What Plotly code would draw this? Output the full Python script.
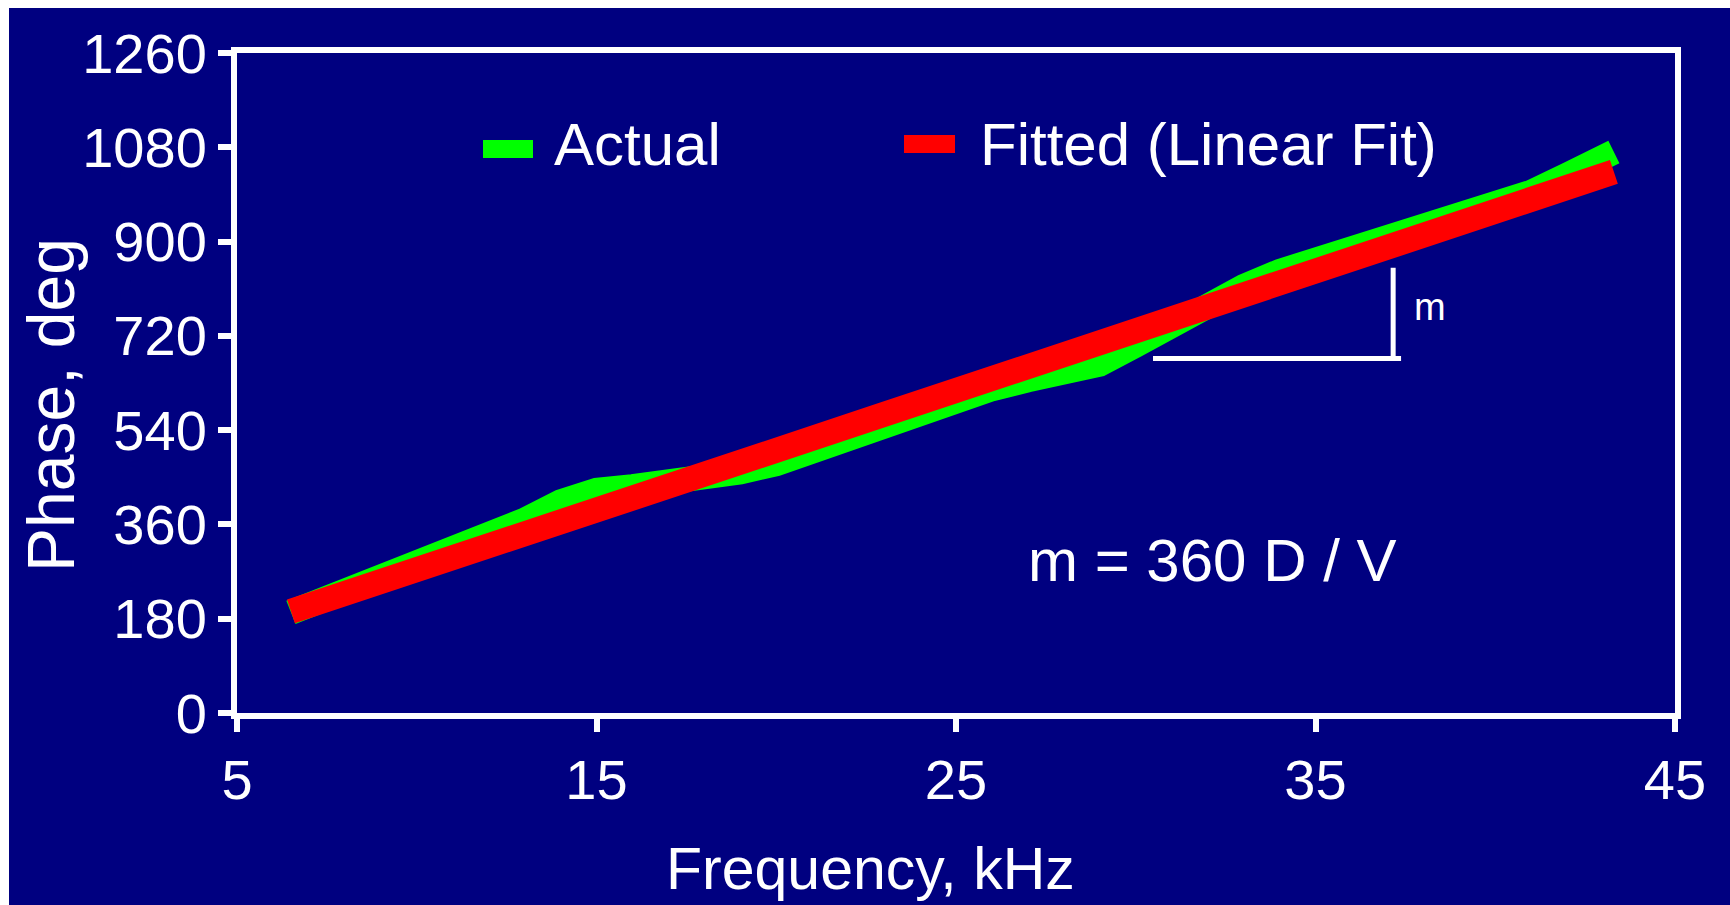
import plotly.graph_objects as go

# ---------------- data ----------------
freq_khz = [6.5, 7, 8, 9, 10, 11, 12, 13, 14, 15, 16, 17, 18, 19, 20, 21, 22,
            23, 24, 25, 26, 27, 28, 29, 30, 31, 32, 33, 34, 35, 36, 37, 38, 39,
            40, 41, 42, 43, 43.3]
phase_actual = [192, 205, 232, 259, 285, 310, 337, 368, 403, 425, 432, 439, 450,
                460, 476, 500, 529, 555, 580, 602, 619, 636, 651, 666, 702, 742,
                779, 814, 843, 864, 882, 901, 922, 943, 968, 994, 1027, 1062, 1071]
phase_fitted = [194, 205, 228, 251, 274, 296, 319, 342, 365, 388, 410, 433, 456,
                479, 502, 524, 547, 570, 593, 616, 638, 661, 684, 707, 730, 752,
                775, 798, 821, 844, 866, 889, 912, 935, 958, 980, 1003, 1026, 1033]

x_tick_vals = [5, 15, 25, 35, 45]
y_tick_vals = [0, 180, 360, 540, 720, 900, 1080, 1260]

series_names = ["Actual", "Fitted (Linear Fit)"]
series_colors = ["#00FF00", "#FF0000"]

x_title = "Frequency, kHz"
y_title = "Phase, deg"
formula_text = "m = 360 D / V"
slope_label = "m"

# ---------------- layout geometry ----------------
W, H = 1730, 905
L, R, T, B = 237, 55, 53, 192
PW, PH = W - L - R, H - T - B
NAVY = "#000080"
FONT = "Liberation Sans"


def px(xpix):
    return (xpix - L) / PW


def py(ypix):
    return (H - B - ypix) / PH


fig = go.Figure()
for name, vals, col in zip(series_names, [phase_actual, phase_fitted], series_colors):
    fig.add_trace(go.Scatter(x=freq_khz, y=vals, mode="lines", name=name,
                             line=dict(color=col, width=25), showlegend=False,
                             hoverinfo="skip"))

axis_common = dict(showline=True, linecolor="white", linewidth=6, mirror=True,
                   ticks="outside", tickcolor="white", tickwidth=6, ticklen=13,
                   showgrid=False, zeroline=False,
                   tickfont=dict(family=FONT, size=56, color="white"))

fig.update_xaxes(range=[5, 45], tickvals=x_tick_vals, ticklabelstandoff=0, **axis_common)
fig.update_yaxes(range=[0, 1260], tickvals=y_tick_vals, ticklabelstandoff=0, **axis_common)

shapes = [
    # navy canvas leaving the thin white border at top/left
    dict(type="rect", xref="paper", yref="paper", x0=px(9), x1=px(W + 5),
         y0=py(H + 5), y1=py(8), fillcolor=NAVY, line=dict(width=0), layer="below"),
    # legend swatches
    dict(type="rect", xref="paper", yref="paper", x0=px(483), x1=px(533),
         y0=py(158), y1=py(140), fillcolor=series_colors[0], line=dict(width=0)),
    dict(type="rect", xref="paper", yref="paper", x0=px(904), x1=px(955),
         y0=py(153), y1=py(135), fillcolor=series_colors[1], line=dict(width=0)),
    # slope indicator
    dict(type="line", xref="x", yref="y", x0=30.48, x1=37.38, y0=677, y1=677,
         line=dict(color="white", width=5)),
    dict(type="line", xref="x", yref="y", x0=37.16, x1=37.16, y0=677, y1=850,
         line=dict(color="white", width=5)),
]

white = dict(family=FONT, color="white")
annotations = [
    dict(text=series_names[0], xref="paper", yref="paper", x=px(552), y=py(144),
         xanchor="left", yanchor="middle", showarrow=False, font=dict(size=60, **white)),
    dict(text=series_names[1], xref="paper", yref="paper", x=px(978), y=py(144),
         xanchor="left", yanchor="middle", showarrow=False, font=dict(size=60, **white)),
    dict(text=formula_text, xref="x", yref="y", x=32.13, y=291,
         xanchor="center", yanchor="middle", showarrow=False, font=dict(size=60, **white)),
    dict(text=slope_label, xref="x", yref="y", x=38.19, y=775,
         xanchor="center", yanchor="middle", showarrow=False, font=dict(size=38, **white)),
    dict(text=x_title, xref="paper", yref="paper", x=px(870), y=py(869),
         xanchor="center", yanchor="middle", showarrow=False, font=dict(size=59, **white)),
    dict(text=y_title, xref="paper", yref="paper", x=px(51), y=py(405),
         xanchor="center", yanchor="middle", textangle=-90, showarrow=False,
         font=dict(size=66, **white)),
]

fig.update_layout(width=W, height=H, margin=dict(l=L, r=R, t=T, b=B, pad=0),
                  paper_bgcolor="white", plot_bgcolor=NAVY,
                  shapes=shapes, annotations=annotations)

fig.write_html("out.html")
